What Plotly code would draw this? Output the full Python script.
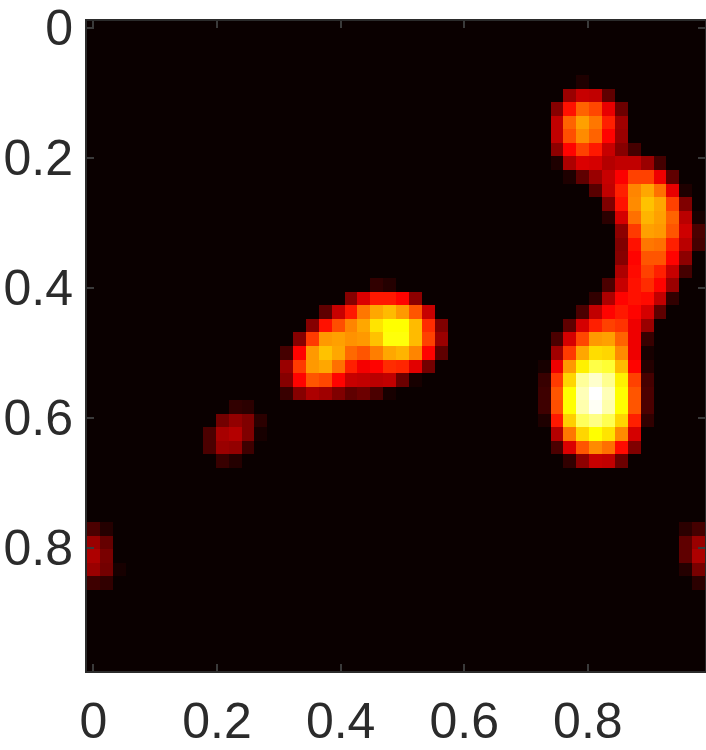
import plotly.graph_objects as go

# grid of the image, 48 x 48 cells
n_cells = 48
cell_positions = [i / n_cells for i in range(n_cells)]
tick_values = [0, 0.2, 0.4, 0.6, 0.8]
tick_labels = ["0", "0.2", "0.4", "0.6", "0.8"]

# intensity in percent: (row, first column, values)
blob_top_right = [
    (4, 38, [3]),
    (5, 37, [22, 29, 28, 13]),
    (6, 36, [19, 40, 52, 48, 34, 15]),
    (7, 36, [28, 52, 61, 55, 42, 23]),
    (8, 36, [28, 49, 58, 52, 38, 22]),
    (9, 36, [20, 38, 47, 41, 29, 19, 9]),
    (10, 36, [3, 25, 32, 31, 26, 28, 28, 22, 9]),
    (11, 37, [3, 13, 22, 29, 37, 47, 47, 35, 13]),
    (12, 39, [12, 28, 42, 57, 62, 54, 34, 3]),
    (13, 40, [18, 40, 58, 66, 62, 47, 18]),
    (14, 40, [5, 31, 54, 64, 61, 52, 27, 2]),
    (15, 41, [20, 46, 61, 60, 50, 30, 10]),
    (16, 41, [18, 40, 55, 54, 42, 27, 9]),
    (17, 41, [19, 38, 50, 50, 38, 20]),
    (18, 41, [25, 39, 47, 42, 29, 9]),
]
blob_bottom_right = [
    (19, 40, [10, 29, 40, 44, 38, 22]),
    (20, 39, [6, 25, 38, 40, 39, 28, 6]),
    (21, 38, [10, 28, 38, 41, 38, 31, 13]),
    (22, 37, [13, 31, 42, 47, 45, 35, 22]),
    (23, 36, [10, 31, 48, 60, 61, 52, 35, 7]),
    (24, 36, [23, 46, 62, 70, 69, 58, 35, 2]),
    (25, 35, [2, 35, 60, 73, 82, 80, 65, 38, 4]),
    (26, 35, [7, 46, 69, 90, 95, 89, 73, 47, 9]),
    (27, 35, [8, 50, 75, 93, 100, 93, 75, 50, 10]),
    (28, 35, [8, 49, 75, 92, 99, 92, 75, 50, 10]),
    (29, 35, [3, 41, 68, 84, 88, 83, 69, 42, 6]),
    (30, 36, [26, 55, 69, 75, 71, 58, 31]),
    (31, 36, [10, 32, 50, 58, 54, 39, 18]),
    (32, 37, [6, 20, 29, 28, 15]),
]
blob_centre = [
    (19, 22, [6, 4]),
    (20, 20, [19, 32, 41, 41, 38, 20]),
    (21, 18, [13, 29, 41, 55, 62, 65, 60, 50, 29]),
    (22, 17, [19, 40, 49, 57, 62, 71, 75, 75, 65, 44, 18]),
    (23, 16, [19, 46, 60, 61, 59, 60, 66, 76, 76, 65, 47, 22]),
    (24, 15, [9, 38, 60, 66, 62, 53, 50, 56, 62, 64, 57, 38, 13]),
    (25, 15, [22, 46, 60, 62, 54, 42, 36, 38, 44, 43, 33, 16]),
    (26, 15, [19, 38, 50, 48, 38, 29, 28, 27, 28, 15, 2]),
    (27, 15, [7, 19, 25, 23, 18, 13, 15, 10, 2]),
]
blob_small = [
    (28, 11, [6, 5]),
    (29, 10, [16, 21, 18, 5]),
    (30, 9, [10, 24, 26, 18, 2]),
    (31, 9, [10, 22, 21, 8]),
    (32, 10, [7, 4]),
]
blob_left_edge = [
    (37, 0, [10, 4]),
    (38, 0, [22, 14]),
    (39, 0, [25, 17]),
    (40, 0, [22, 16, 2]),
    (41, 0, [8, 6]),
]
blob_right_edge = [
    (37, 46, [5, 9]),
    (38, 46, [13, 22]),
    (39, 46, [13, 25]),
    (40, 46, [4, 17]),
    (41, 47, [5]),
]

intensity = [[0] * n_cells for _ in range(n_cells)]
for blob in [blob_top_right, blob_bottom_right, blob_centre, blob_small, blob_left_edge, blob_right_edge]:
    for row, first, values in blob:
        for offset, value in enumerate(values):
            intensity[row][first + offset] = value

half_cell = 0.5 / n_cells
axis_color = "#2b2b2b"
axis_style = dict(
    tickvals=tick_values,
    ticktext=tick_labels,
    ticks="inside",
    ticklen=7,
    tickwidth=1.5,
    tickcolor="#3a3a3a",
    showline=True,
    linewidth=2,
    linecolor=axis_color,
    mirror="allticks",
    showgrid=False,
    zeroline=False,
    tickfont=dict(family="Liberation Sans", size=50, color=axis_color),
)

fig = go.Figure(
    go.Heatmap(
        x=cell_positions,
        y=cell_positions,
        z=intensity,
        zmin=0,
        zmax=100,
        showscale=False,
        colorscale=[
            [0, "rgb(10,0,0)"],
            [0.375, "rgb(255,0,0)"],
            [0.75, "rgb(255,255,0)"],
            [1, "rgb(255,255,255)"],
        ],
    )
)
fig.update_xaxes(range=[-half_cell, 1 - half_cell], ticklabelstandoff=5, **axis_style)
fig.update_yaxes(range=[1 - half_cell, -half_cell], ticklabelstandoff=2, **axis_style)
fig.update_layout(
    template="none",
    width=706,
    height=750,
    margin=dict(l=87, r=1, t=21, b=79),
    paper_bgcolor="white",
    plot_bgcolor="black",
)
fig.write_html(
    "out.html",
    config={"displayModeBar": False},
    post_script="document.body.style.margin='0';",
)
